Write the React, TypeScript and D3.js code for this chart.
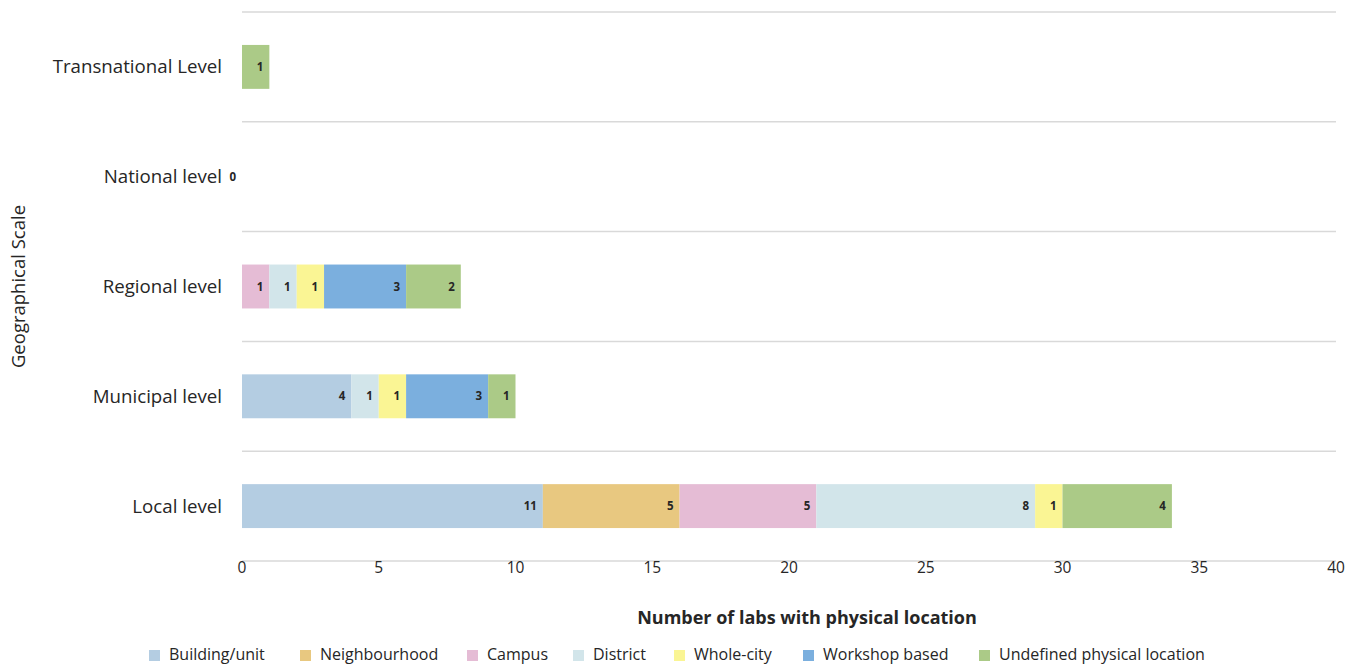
import React from "react";
import * as d3 from "d3";

const categories = [
  "Transnational Level",
  "National level",
  "Regional level",
  "Municipal level",
  "Local level",
];

const seriesNames = [
  "Building/unit",
  "Neighbourhood",
  "Campus",
  "District",
  "Whole-city",
  "Workshop based",
  "Undefined physical location",
];

const seriesColors = [
  "#B4CDE2",
  "#E8C880",
  "#E5BCD5",
  "#D2E5EA",
  "#FAF594",
  "#7BAFDE",
  "#ABCA87",
];

// one row per category, values in series order
const buildingUnit = [0, 0, 0, 4, 11];
const neighbourhood = [0, 0, 0, 0, 5];
const campus = [0, 0, 1, 0, 5];
const district = [0, 0, 1, 1, 8];
const wholeCity = [0, 0, 1, 1, 1];
const workshopBased = [0, 0, 3, 3, 0];
const undefinedLocation = [1, 0, 2, 1, 4];

const xTicks = [0, 5, 10, 15, 20, 25, 30, 35, 40];

// legend text x positions
const legendX = [169, 320, 487, 593, 694, 823, 999];

const FONT = "'Open Sans', 'Noto Sans', sans-serif";

export default function App() {
  const width = 1359;
  const height = 665;
  const margin = { top: 12, right: 23, bottom: 104, left: 242 };

  const seriesValues = [
    buildingUnit,
    neighbourhood,
    campus,
    district,
    wholeCity,
    workshopBased,
    undefinedLocation,
  ];

  const rows = categories.map((c, i) => {
    const r: Record<string, number | string> = { category: c };
    seriesNames.forEach((s, j) => (r[s] = seriesValues[j][i]));
    return r;
  });

  const stacked = d3.stack<Record<string, number | string>>().keys(seriesNames)(rows as any);

  const x = d3
    .scaleLinear()
    .domain([0, 40])
    .range([margin.left, width - margin.right]);

  const y = d3
    .scaleBand<string>()
    .domain(categories)
    .range([margin.top, height - margin.bottom])
    .paddingInner(0.6)
    .paddingOuter(0.3);

  const step = y.step();
  const y0 = margin.top;
  const yBottom = height - margin.bottom;
  const gridYs = d3.range(categories.length + 1).map((i) => y0 + i * step);

  const color = d3.scaleOrdinal<string, string>().domain(seriesNames).range(seriesColors);

  const totals = categories.map((_, i) => d3.sum(seriesValues, (s) => s[i]));

  return (
    <svg width={width} height={height} style={{ position: "absolute", left: 0, top: 0 }}>
      <rect width={width} height={height} fill="#fff" />
      {gridYs.map((gy, i) => (
        <line
          key={i}
          x1={margin.left}
          x2={width - margin.right}
          y1={gy}
          y2={gy}
          stroke="#D9D9D9"
          strokeWidth={1.5}
        />
      ))}

      {stacked.map((layer) => (
        <g key={layer.key} fill={color(layer.key)}>
          {layer.map((d, i) =>
            d[1] - d[0] > 0 ? (
              <rect
                key={i}
                x={x(d[0])}
                y={y(categories[i])}
                width={x(d[1]) - x(d[0])}
                height={y.bandwidth()}
              />
            ) : null
          )}
        </g>
      ))}

      {stacked.map((layer) => (
        <g key={"l" + layer.key}>
          {layer.map((d, i) =>
            d[1] - d[0] > 0 ? (
              <text
                key={i}
                x={x(d[1]) - 6}
                y={(y(categories[i]) as number) + y.bandwidth() / 2}
                dy="0.35em"
                textAnchor="end"
                fontFamily={FONT}
                fontWeight="bold"
                fontSize={11.5}
                fill="#262626"
              >
                {d[1] - d[0]}
              </text>
            ) : null
          )}
        </g>
      ))}

      {categories.map((c, i) =>
        totals[i] === 0 ? (
          <text
            key={"z" + c}
            x={x(0) - 6}
            y={(y(c) as number) + y.bandwidth() / 2}
            dy="0.35em"
            textAnchor="end"
            fontFamily={FONT}
            fontWeight="bold"
            fontSize={11.5}
            fill="#262626"
          >
            0
          </text>
        ) : null
      )}

      {categories.map((c) => (
        <text
          key={"c" + c}
          x={x(0) - 20}
          y={(y(c) as number) + y.bandwidth() / 2}
          dy="0.35em"
          textAnchor="end"
          fontFamily={FONT}
          fontSize={18.7}
          fill="#262626"
        >
          {c}
        </text>
      ))}

      {xTicks.map((t) => (
        <text
          key={"t" + t}
          x={x(t)}
          y={yBottom + 1}
          dy="0.71em"
          textAnchor="middle"
          fontFamily={FONT}
          fontSize={15.5}
          fill="#262626"
        >
          {t}
        </text>
      ))}

      <text
        x={807}
        y={618}
        dy="0.35em"
        textAnchor="middle"
        fontFamily={FONT}
        fontWeight="bold"
        fontSize={18}
        fill="#262626"
      >
        Number of labs with physical location
      </text>

      <text
        transform={`translate(19,${(y0 + yBottom) / 2}) rotate(-90)`}
        dy="0.35em"
        textAnchor="middle"
        fontFamily={FONT}
        fontSize={18.5}
        fill="#262626"
      >
        Geographical Scale
      </text>

      {seriesNames.map((s, i) => (
        <g key={"lg" + s}>
          <rect x={legendX[i] - 20} y={650} width={11} height={11} fill={color(s)} />
          <text
            x={legendX[i]}
            y={654}
            dy="0.35em"
            fontFamily={FONT}
            fontSize={16}
            fill="#262626"
          >
            {s}
          </text>
        </g>
      ))}
    </svg>
  );
}
